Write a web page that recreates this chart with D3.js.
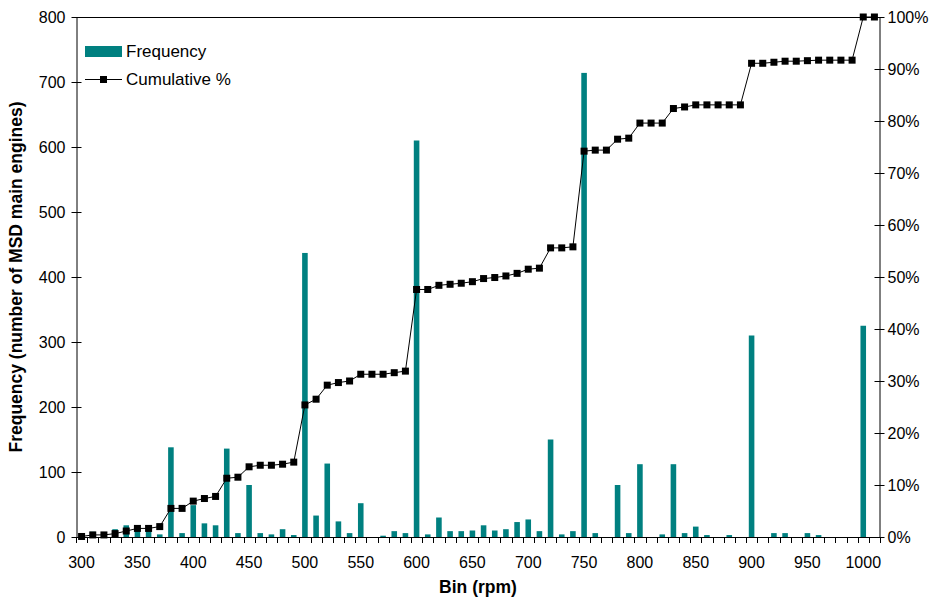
<!DOCTYPE html>
<html>
<head>
<meta charset="utf-8">
<script src="https://cdn.jsdelivr.net/npm/d3@7"></script>
<style>
  body { margin: 0; background: #fff; }
  text { font-family: Arial, "Liberation Sans", sans-serif; }
</style>
</head>
<body>
<div id="graph"></div>
<script>
// bins (rpm), last one is the overflow bin
const bins = ["300","310","320","330","340","350","360","370","380","390",
              "400","410","420","430","440","450","460","470","480","490",
              "500","510","520","530","540","550","560","570","580","590",
              "600","610","620","630","640","650","660","670","680","690",
              "700","710","720","730","740","750","760","770","780","790",
              "800","810","820","830","840","850","860","870","880","890",
              "900","910","920","930","940","950","960","970","980","990",
              "1000","More"];

const frequency = [3, 8, 3, 12, 18, 15, 12, 4, 138, 6,
                   49, 21, 18, 136, 6, 80, 6, 4, 12, 3,
                   437, 33, 113, 24, 6, 52, 0, 2, 9, 6,
                   610, 4, 30, 9, 9, 10, 18, 10, 12, 23,
                   27, 9, 150, 4, 9, 714, 6, 0, 80, 6,
                   112, 0, 4, 112, 6, 16, 3, 0, 3, 0,
                   310, 0, 6, 6, 0, 6, 3, 0, 0, 0,
                   325, 0];

// cumulative %
const cumulative = [0.1, 0.4, 0.4, 0.65, 1.15, 1.65, 1.65, 2.0, 5.5, 5.5,
                    6.9, 7.4, 7.8, 11.3, 11.5, 13.5, 13.8, 13.8, 14.0, 14.4,
                    25.4, 26.5, 29.2, 29.7, 30.0, 31.3, 31.3, 31.3, 31.6, 31.9,
                    47.6, 47.6, 48.4, 48.6, 48.8, 49.1, 49.7, 49.9, 50.2, 50.7,
                    51.5, 51.7, 55.6, 55.6, 55.8, 74.2, 74.4, 74.4, 76.5, 76.7,
                    79.6, 79.6, 79.6, 82.4, 82.7, 83.1, 83.1, 83.1, 83.1, 83.1,
                    91.1, 91.1, 91.3, 91.5, 91.5, 91.6, 91.7, 91.7, 91.7, 91.7,
                    100, 100];

const leftTicks = [0, 100, 200, 300, 400, 500, 600, 700, 800];
const rightTicks = [0, 10, 20, 30, 40, 50, 60, 70, 80, 90, 100];
const xLabels = ["300","350","400","450","500","550","600","650","700","750","800","850","900","950","1000"];

const width = 937;
const height = 599;
const plotL = 76, plotR = 880, plotT = 17, plotB = 537;

const svg = d3.select("#graph")
              .append("svg")
              .attr("width", width)
              .attr("height", height);

const xScale = d3.scaleBand()
                 .domain(bins)
                 .range([ plotL, plotR ])
                 .paddingInner(0.5)
                 .paddingOuter(0.25);

const xPoint = d3.scalePoint()
                 .domain(bins)
                 .range([ plotL, plotR ])
                 .padding(0.5);

const yScale = d3.scaleLinear()
                 .domain([ 0, 800 ])
                 .range([ plotB, plotT ]);

const pScale = d3.scaleLinear()
                 .domain([ 0, 100 ])
                 .range([ plotB, plotT ]);

// bars
svg.selectAll("rect.bar")
   .data(frequency)
   .enter()
   .append("rect")
   .attr("class", "bar")
   .attr("x", (d, i) => xPoint(bins[i]) - xScale.bandwidth() / 2)
   .attr("y", d => yScale(d))
   .attr("width", xScale.bandwidth())
   .attr("height", d => plotB - yScale(d))
   .attr("fill", "#008080");

// top border
svg.append("line")
   .attr("x1", plotL).attr("x2", plotR)
   .attr("y1", plotT + 0.5).attr("y2", plotT + 0.5)
   .attr("stroke", "#000");

// x axis: a tick at every bin boundary, labels every 50 rpm
const xAxis = svg.append("g")
                 .attr("transform", "translate(0," + plotB + ")");

xAxis.append("line")
     .attr("x1", plotL).attr("x2", plotR)
     .attr("y1", 0.5).attr("y2", 0.5)
     .attr("stroke", "#000");

const step = (plotR - plotL) / bins.length;
xAxis.selectAll("line.tick")
     .data(d3.range(bins.length + 1))
     .enter()
     .append("line")
     .attr("class", "tick")
     .attr("x1", i => Math.round(plotL + i * step) + 0.5)
     .attr("x2", i => Math.round(plotL + i * step) + 0.5)
     .attr("y1", 0)
     .attr("y2", 6)
     .attr("stroke", "#000");

xAxis.selectAll("text")
     .data(xLabels)
     .enter()
     .append("text")
     .attr("x", d => xPoint(d))
     .attr("y", 31)
     .attr("text-anchor", "middle")
     .style("font-size", "16px")
     .text(d => d);

// left axis
const yAxis = d3.axisLeft(yScale)
                .tickValues(leftTicks)
                .tickSizeInner(5)
                .tickSizeOuter(0)
                .tickPadding(8);

const gy = svg.append("g")
              .attr("transform", "translate(" + (plotL + 0.5) + ",0)")
              .call(yAxis);
gy.selectAll(".tick line").attr("x2", 5).attr("x1", -5).attr("stroke", "#000");
gy.selectAll("text").style("font-size", "16px").attr("x", -11).attr("fill", "#000")
  .style("font-family", "Arial, 'Liberation Sans', sans-serif");
gy.select(".domain").attr("stroke", "#000");

// right axis
const pAxis = d3.axisRight(pScale)
                .tickValues(rightTicks)
                .tickFormat(d => d + "%")
                .tickSizeInner(5)
                .tickSizeOuter(0)
                .tickPadding(8);

const gp = svg.append("g")
              .attr("transform", "translate(" + (plotR - 0.5) + ",0)")
              .call(pAxis);
gp.selectAll(".tick line").attr("x1", -5).attr("x2", 5).attr("stroke", "#000");
gp.selectAll("text").style("font-size", "16px").attr("x", 8).attr("fill", "#000")
  .style("font-family", "Arial, 'Liberation Sans', sans-serif");
gp.select(".domain").attr("stroke", "#000");

// cumulative line
const line = d3.line()
               .x((d, i) => xPoint(bins[i]))
               .y(d => pScale(d));

svg.append("path")
   .datum(cumulative)
   .attr("d", line)
   .attr("fill", "none")
   .attr("stroke", "#000")
   .attr("stroke-width", 1);

svg.selectAll("rect.marker")
   .data(cumulative)
   .enter()
   .append("rect")
   .attr("class", "marker")
   .attr("x", (d, i) => xPoint(bins[i]) - 3.5)
   .attr("y", d => pScale(d) - 3.5)
   .attr("width", 7)
   .attr("height", 7)
   .attr("fill", "#000");

// axis titles
svg.append("text")
   .attr("transform", "translate(22," + ((plotT + plotB) / 2) + ") rotate(-90)")
   .attr("text-anchor", "middle")
   .style("font-size", "17.5px")
   .style("font-weight", "bold")
   .text("Frequency (number of MSD main engines)");

svg.append("text")
   .attr("x", (plotL + plotR) / 2)
   .attr("y", 593)
   .attr("text-anchor", "middle")
   .style("font-size", "17.5px")
   .style("font-weight", "bold")
   .text("Bin (rpm)");

// legend
const legend = svg.append("g");
legend.append("rect")
      .attr("x", 85).attr("y", 46)
      .attr("width", 37).attr("height", 11)
      .attr("fill", "#008080");
legend.append("text")
      .attr("x", 126).attr("y", 57)
      .style("font-size", "17px")
      .text("Frequency");
legend.append("line")
      .attr("x1", 85).attr("x2", 122)
      .attr("y1", 79.5).attr("y2", 79.5)
      .attr("stroke", "#000");
legend.append("rect")
      .attr("x", 100).attr("y", 76)
      .attr("width", 7).attr("height", 7)
      .attr("fill", "#000");
legend.append("text")
      .attr("x", 126).attr("y", 85)
      .style("font-size", "17px")
      .text("Cumulative %");
</script>
</body>
</html>
